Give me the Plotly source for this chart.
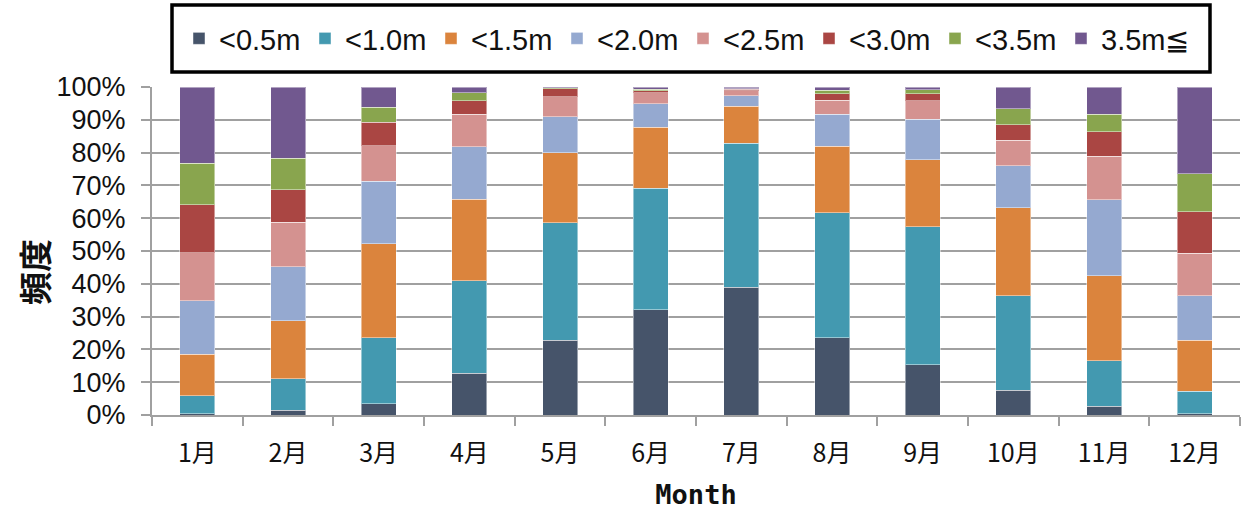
import plotly.graph_objects as go

# Monthly frequency distribution (%) of wave height classes
months = ["1月", "2月", "3月", "4月", "5月", "6月", "7月", "8月", "9月", "10月", "11月", "12月"]

h_lt_05 = [0.4, 1.4, 3.5, 12.8, 22.8, 32.1, 38.9, 23.5, 15.3, 7.5, 2.7, 0.4]
h_lt_10 = [5.4, 9.6, 20.0, 28.2, 35.8, 37.1, 43.9, 38.1, 42.1, 28.9, 13.9, 6.8]
h_lt_15 = [12.7, 17.7, 28.7, 24.8, 21.4, 18.6, 11.4, 20.4, 20.4, 26.8, 25.9, 15.6]
h_lt_20 = [16.4, 16.5, 19.1, 16.0, 11.0, 7.1, 3.1, 9.7, 12.4, 12.8, 23.1, 13.6]
h_lt_25 = [14.6, 13.6, 10.8, 9.9, 6.0, 3.3, 1.6, 4.2, 5.6, 7.8, 13.3, 12.9]
h_lt_30 = [14.6, 9.8, 7.2, 4.1, 2.4, 0.6, 0.4, 2.1, 2.2, 4.7, 7.4, 12.6]
h_lt_35 = [12.7, 9.7, 4.5, 2.4, 0.4, 0.5, 0.2, 1.0, 1.2, 4.9, 5.4, 11.6]
h_ge_35 = [23.2, 21.7, 6.2, 1.8, 0.2, 0.7, 0.5, 1.0, 0.8, 6.6, 8.3, 26.5]

series_names = ["<0.5m", "<1.0m", "<1.5m", "<2.0m", "<2.5m", "<3.0m", "<3.5m", "3.5m≦"]
series_values = [h_lt_05, h_lt_10, h_lt_15, h_lt_20, h_lt_25, h_lt_30, h_lt_35, h_ge_35]
series_colors = ["#46546A", "#4399B0", "#DB843D", "#95A9D0", "#D49290", "#AA4643", "#89A54E", "#71588F"]

fig = go.Figure()
for name, vals, col in zip(series_names, series_values, series_colors):
    fig.add_trace(go.Bar(
        x=months, y=vals, name=name,
        marker=dict(color=col, line=dict(color="rgba(255,255,255,0.45)", width=1)),
    ))

# plot area in pixels: x 152..1240, y 87..415
PX_L, PX_W, PX_B, PX_H = 152, 1088, 415, 328


def px_x(p):
    return (p - PX_L) / PX_W


def px_y(p):
    return (PX_B - p) / PX_H


grid = "#A0A0A0"
fig.update_layout(
    barmode="stack",
    bargap=0.614,
    width=1243, height=515,
    margin=dict(l=152, r=3, t=87, b=100),
    paper_bgcolor="white", plot_bgcolor="white",
    font=dict(family="Liberation Sans, Arial, sans-serif", color="#111111"),
    showlegend=True,
    legend=dict(
        orientation="h",
        x=px_x(179), xanchor="left",
        y=px_y(13), yanchor="top",
        bgcolor="rgba(0,0,0,0)", borderwidth=0,
        font=dict(size=29, family="Liberation Sans, Arial, sans-serif", color="#111111"),
        traceorder="normal",
        itemwidth=30,
        entrywidth=81, entrywidthmode="pixels",
    ),
    shapes=[dict(
        type="rect", xref="paper", yref="paper",
        x0=px_x(172), x1=px_x(1210), y0=px_y(72), y1=px_y(5),
        line=dict(color="black", width=3.5), fillcolor="rgba(0,0,0,0)",
        layer="above",
    )],
    xaxis=dict(
        showline=True, linecolor=grid, linewidth=2,
        ticks="outside", tickson="boundaries", ticklen=9, tickcolor=grid, tickwidth=2,
        tickfont=dict(size=25, family="Liberation Sans Narrow, Noto Sans CJK JP, sans-serif", color="#111111"),
        ticklabelstandoff=15,
        title=dict(text="<b>Month</b>", standoff=17,
                   font=dict(size=27, family="Liberation Sans Narrow, DejaVu Sans Mono, monospace", color="#111111")),
        showgrid=False,
    ),
    yaxis=dict(
        range=[0, 100], dtick=10, ticksuffix="%",
        showline=True, linecolor=grid, linewidth=2,
        ticks="outside", ticklen=9, tickcolor=grid, tickwidth=2,
        showgrid=True, gridcolor=grid, gridwidth=2,
        tickfont=dict(size=27, color="#111111"),
        ticklabelstandoff=10,
    ),
    annotations=[dict(
        text="<b>頻度</b>", textangle=-90,
        xref="paper", yref="paper",
        x=px_x(34), y=px_y(272),
        xanchor="center", yanchor="middle", showarrow=False,
        font=dict(size=33, family="Noto Sans CJK JP, sans-serif", color="#111111"),
    )],
)

fig.write_html("out.html")
